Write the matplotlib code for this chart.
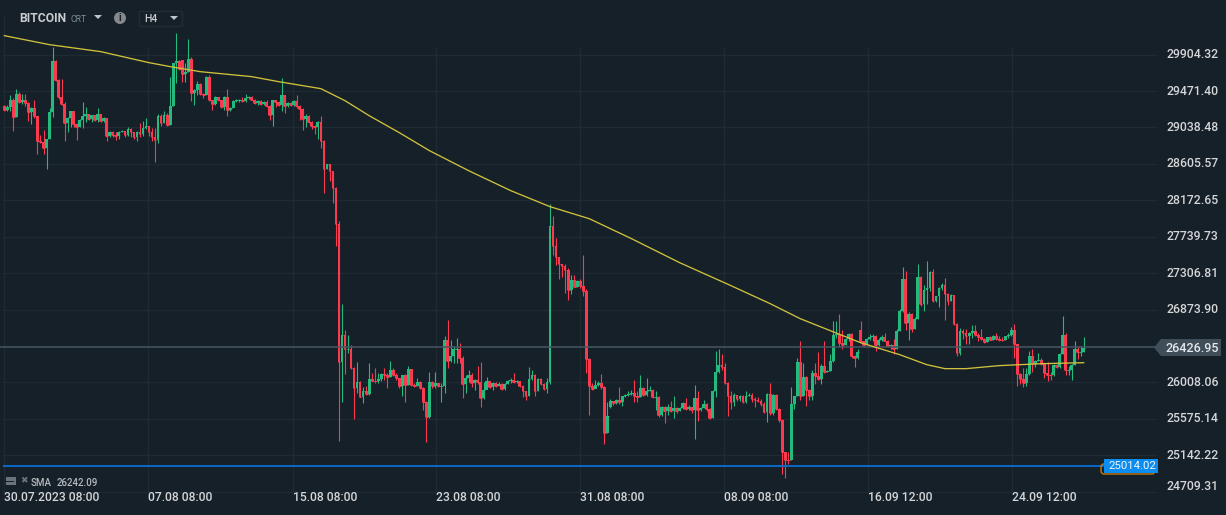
"""BITCOIN H4 candlestick chart with a long SMA, dark trading-terminal look."""

import matplotlib
matplotlib.use("Agg")
import matplotlib.pyplot as plt
from matplotlib.patches import Circle, FancyBboxPatch, Polygon, Rectangle
from matplotlib.transforms import Affine2D

closes = [
    29250, 29280, 29370, 29160, 29435, 29345, 29370, 29330, 29220, 29270,
    29170, 28880, 28860, 28800, 28900, 29220, 29825, 29600, 29400, 29320,
    29090, 29150, 29230, 29080, 29050, 29130, 29170, 29200, 29140, 29185,
    29130, 29195, 29120, 29150, 28940, 28990, 28950, 28935, 28990, 29000,
    28950, 29020, 28990, 28920, 28990, 28960, 29030, 29060, 28990, 28930,
    28890, 29180, 29090, 29190, 29070, 29290, 29800, 29830, 29730, 29680,
    29700, 29850, 29450, 29480, 29560, 29440, 29430, 29640, 29360, 29320,
    29400, 29360, 29280, 29400, 29250, 29270, 29350, 29370, 29370, 29350,
    29390, 29400, 29370, 29330, 29350, 29320, 29340, 29290, 29190, 29360,
    29340, 29300, 29420, 29290, 29330, 29300, 29350, 29290, 29260, 29140,
    29180, 29100, 29060, 29040, 29100, 28880, 28540, 28600, 28520, 28320,
    27890, 26250, 26570, 26400, 26400, 26180, 25940, 26010, 25830, 25910,
    25870, 26050, 26030, 26020, 26050, 26110, 26100, 26070, 26150, 26090,
    26060, 25970, 26090, 25980, 26170, 25980, 25970, 26010, 25940, 25780,
    25600, 26010, 25970, 26000, 25960, 25960, 26510, 26260, 26320, 26400,
    26410, 26300, 25990, 26060, 26100, 25995, 26040, 26010, 25820, 25920,
    26020, 25950, 26000, 25960, 25990, 25930, 25990, 26030, 26040, 26010,
    26030, 25960, 25910, 25850, 26050, 26090, 25910, 26050, 25990, 25930,
    26010, 27865, 27630, 27495, 27410, 27390, 27340, 27110, 27230, 27145,
    27210, 27150, 27100, 26280, 25970, 25930, 25980, 26000, 25950, 25400,
    25610, 25790, 25760, 25800, 25770, 25840, 25860, 25870, 25880, 25850,
    25830, 25945, 25860, 25910, 25920, 25830, 25830, 25620, 25720, 25670,
    25710, 25670, 25700, 25670, 25700, 25760, 25690, 25720, 25680, 25820,
    25680, 25700, 25750, 25690, 25590, 25900, 26130, 26210, 26190, 26000,
    25840, 25780, 25860, 25810, 25850, 25770, 25850, 25860, 25810, 25800,
    25790, 25750, 25650, 25870, 25640, 25860, 25690, 25560, 25175, 25090,
    25085, 25750, 25840, 26255, 25850, 26075, 25920, 25850, 26125, 26080,
    26050, 26207, 26132, 26147, 26259, 26570, 26580, 26477, 26457, 26529,
    26588, 26318, 26299, 26366, 26497, 26457, 26525, 26545, 26557, 26450,
    26517, 26549, 26505, 26437, 26457, 26410, 26624, 26854, 27232, 26715,
    26823, 26648, 26767, 27259, 26934, 27112, 27124, 27319, 26973, 27032,
    27132, 27164, 27061, 26973, 27045, 26696, 26358, 26616, 26600, 26557,
    26596, 26624, 26577, 26545, 26525, 26489, 26545, 26517, 26557, 26525,
    26517, 26510, 26557, 26570, 26636, 26465, 26108, 26052, 26001, 26108,
    26326, 26227, 26259, 26279, 26227, 26120, 26100, 26092, 26219, 26187,
    26350, 26577, 26152, 26152, 26219, 26406, 26366, 26370, 26418,
]
highs = [
    29300, 29300, 29430, 29390, 29495, 29455, 29435, 29435, 29340, 29280,
    29360, 29180, 28950, 29010, 28900, 29270, 29995, 29840, 29620, 29610,
    29340, 29160, 29240, 29230, 29090, 29140, 29345, 29285, 29200, 29190,
    29190, 29270, 29195, 29160, 29130, 29000, 29000, 28985, 29000, 29010,
    29000, 29040, 29030, 28990, 29000, 29090, 29110, 29150, 29060, 29030,
    29030, 29200, 29200, 29240, 29210, 29640, 29800, 30160, 29840, 29840,
    29800, 30090, 29880, 29490, 29590, 29570, 29450, 29650, 29660, 29360,
    29410, 29400, 29370, 29410, 29500, 29280, 29360, 29380, 29380, 29400,
    29435, 29410, 29410, 29380, 29360, 29360, 29350, 29360, 29300, 29370,
    29370, 29350, 29625, 29420, 29340, 29340, 29360, 29430, 29300, 29270,
    29200, 29190, 29110, 29070, 29110, 29170, 28890, 28610, 28610, 28510,
    28330, 27930, 26945, 26630, 26570, 26450, 26190, 26250, 26020, 25950,
    25960, 26235, 26115, 26180, 26115, 26120, 26180, 26115, 26260, 26180,
    26120, 26060, 26100, 26110, 26200, 26170, 26000, 26060, 26020, 25950,
    25790, 26130, 26020, 26130, 26000, 26000, 26555, 26755, 26510, 26440,
    26530, 26480, 26320, 26090, 26150, 26120, 26050, 26200, 26250, 26010,
    26070, 26030, 26010, 26010, 26010, 26000, 26000, 26040, 26060, 26120,
    26040, 26030, 25980, 25910, 26190, 26150, 26110, 26060, 26060, 26000,
    26060, 28125, 27985, 27730, 27500, 27420, 27420, 27370, 27290, 27280,
    27230, 27240, 27520, 27120, 26300, 26000, 26040, 26020, 26110, 25970,
    25770, 25810, 25790, 25810, 25950, 25850, 25870, 25900, 25920, 26040,
    25900, 26100, 25950, 26060, 25960, 25930, 25910, 25840, 25730, 25730,
    25750, 25790, 25850, 25710, 25720, 25780, 25820, 25740, 25720, 25980,
    25910, 25720, 25800, 25760, 25700, 25920, 26385, 26400, 26340, 26240,
    26010, 25910, 25880, 25860, 25860, 25860, 25910, 25880, 25880, 25830,
    25830, 25810, 25770, 25880, 26000, 25870, 25870, 25700, 25570, 25180,
    25175, 25950, 25850, 26300, 26495, 26235, 26080, 25930, 26155, 26235,
    26370, 26230, 26497, 26155, 26350, 26735, 26735, 26815, 26630, 26540,
    26600, 26600, 26330, 26400, 26735, 26500, 26535, 26580, 26580, 26570,
    26530, 26570, 26590, 26510, 26470, 26520, 26640, 26880, 27380, 27330,
    26840, 26830, 26780, 27420, 27270, 27170, 27450, 27330, 27350, 27040,
    27140, 27190, 27250, 27070, 27060, 27050, 26710, 26650, 26640, 26640,
    26610, 26690, 26690, 26590, 26640, 26540, 26550, 26560, 26570, 26590,
    26560, 26550, 26565, 26590, 26670, 26696, 26470, 26120, 26180, 26180,
    26375, 26406, 26270, 26360, 26300, 26240, 26250, 26130, 26225, 26225,
    26360, 26795, 26590, 26200, 26225, 26495, 26440, 26440, 26545,
]
lows = [
    29230, 29230, 29240, 29000, 29160, 29330, 29320, 29290, 29120, 29080,
    29150, 28720, 28850, 28720, 28540, 28900, 29160, 29590, 29380, 29310,
    28880, 28990, 29040, 29040, 28890, 29040, 29030, 29100, 29130, 29100,
    29110, 29100, 29100, 29100, 28880, 28930, 28930, 28890, 28900, 28980,
    28930, 28940, 28920, 28900, 28880, 28930, 28940, 29020, 28940, 28880,
    28625, 28850, 29060, 29090, 29060, 29070, 29290, 29570, 29720, 29580,
    29580, 29700, 29350, 29300, 29430, 29430, 29390, 29430, 29350, 29250,
    29310, 29350, 29270, 29250, 29180, 29240, 29310, 29340, 29340, 29340,
    29340, 29380, 29360, 29320, 29310, 29310, 29300, 29280, 29130, 29060,
    29280, 29290, 29240, 29210, 29280, 29290, 29290, 29270, 29130, 29010,
    29050, 29090, 29020, 28960, 28900, 28800, 28265, 28540, 28400, 28140,
    27630, 25310, 25775, 26110, 26360, 26170, 25570, 25880, 25830, 25760,
    25860, 25860, 26020, 26000, 26000, 26020, 26040, 25940, 26070, 26080,
    26040, 25940, 25840, 25780, 25980, 25970, 25950, 25960, 25930, 25680,
    25300, 25590, 25940, 25940, 25950, 25770, 25880, 26180, 26250, 26240,
    26240, 26240, 25820, 25880, 26010, 25950, 25915, 25990, 25715, 25810,
    25980, 25940, 25920, 25950, 25960, 25920, 25920, 25990, 26000, 26000,
    26000, 25950, 25830, 25800, 25840, 26040, 25850, 25900, 25980, 25920,
    25880, 25990, 27520, 27400, 27240, 27260, 27070, 26990, 27060, 27140,
    27140, 27130, 27030, 26120, 25625, 25920, 25950, 25960, 25930, 25280,
    25400, 25700, 25740, 25750, 25750, 25730, 25830, 25850, 25860, 25780,
    25780, 25830, 25850, 25840, 25900, 25820, 25680, 25600, 25610, 25530,
    25620, 25650, 25590, 25640, 25670, 25690, 25680, 25680, 25640, 25340,
    25545, 25670, 25700, 25670, 25570, 25580, 25830, 26120, 26150, 25990,
    25610, 25690, 25730, 25790, 25790, 25760, 25760, 25840, 25780, 25710,
    25770, 25730, 25640, 25540, 25620, 25620, 25680, 25540, 24915, 24875,
    25040, 25080, 25690, 25840, 25800, 25840, 25730, 25800, 25800, 25990,
    26040, 25990, 26120, 26130, 26140, 26250, 26540, 26430, 26410, 26450,
    26500, 26300, 26190, 26290, 26480, 26440, 26450, 26510, 26500, 26380,
    26440, 26500, 26500, 26430, 26410, 26340, 26400, 26620, 26850, 26635,
    26510, 26610, 26640, 26760, 26920, 26860, 26940, 27100, 26960, 26960,
    26900, 27110, 26755, 26930, 26970, 26690, 26320, 26330, 26520, 26470,
    26460, 26540, 26560, 26500, 26510, 26480, 26485, 26510, 26510, 26515,
    26505, 26505, 26510, 26530, 26560, 26300, 25960, 25990, 25950, 25960,
    26100, 26130, 26190, 26260, 26220, 26060, 26030, 26040, 26085, 26180,
    26180, 26340, 26100, 26100, 26040, 26210, 26290, 26320, 26370,
]

# Each candle opens on the previous close, apart from these few gaps.
opens = [29290] + closes[:-1]
opens[59] = 29840
opens[201] = 25718
opens[284] = 26628

sma_index = [0, 15, 32, 48, 55, 65, 82, 91, 105, 113, 121, 131, 141, 154, 168, 181,
             194, 208, 224, 241, 254, 264, 274, 284, 297, 306, 312, 319, 330, 344, 358]
sma_values = [30130, 30023, 29940, 29809, 29762, 29702, 29643, 29583, 29500, 29357,
              29179, 28977, 28763, 28525, 28287, 28097, 27954, 27717, 27431, 27158,
              26944, 26765, 26622, 26480, 26337, 26218, 26171, 26171, 26207, 26230, 26242]

price_ticks = [29904.32, 29471.40, 29038.48, 28605.57, 28172.65, 27739.73, 27306.81,
               26873.90, 26440.98, 26008.06, 25575.14, 25142.22, 24709.31]
# 26440.98 is hidden behind the last-price tag
price_labels = ["29904.32", "29471.40", "29038.48", "28605.57", "28172.65", "27739.73", "27306.81",
                "26873.90", "", "26008.06", "25575.14", "25142.22", "24709.31"]

# date grid does not fall exactly on a candle in the terminal
date_ticks = [0, 47.7, 95.7, 143.2, 191.0, 238.7, 286.5, 334.2]
date_labels = ["30.07.2023 08:00", "07.08 08:00", "15.08 08:00", "23.08 08:00",
               "31.08 08:00", "08.09 08:00", "16.09 12:00", "24.09 12:00"]

last_price = 26426.95
level_price = 25014.02

BG = "#162028"
GRID = "#1f2a33"
UP = "#24b97d"
DOWN = "#fb3a50"
TEXT = "#d4d6d8"
FONT = "Roboto"

fig = plt.figure(figsize=(12.26, 5.15), dpi=100, facecolor=BG)
ax = fig.add_axes([0, 0, 1, 1], facecolor=BG)
ax.axis("off")
ax.set_xlim(-1.43, 405.2)
ax.set_ylim(24431, 30554)

# chart pixels, for the terminal's widgets around the plot
px = Affine2D().scale(1 / 1226, -1 / 515).translate(0, 1) + fig.transFigure

ax.hlines(price_ticks, -0.8, 382.4, color=GRID, lw=1.0, zorder=1)
ax.vlines(date_ticks, 24709, 29990, color=GRID, lw=1.0, zorder=1)
ax.vlines(0, 29990, 30370, color=GRID, lw=1.0, zorder=1)

xs = list(range(len(closes)))
colors = [UP if c >= o else DOWN for o, c in zip(opens, closes)]
ax.vlines(xs, lows, highs, colors=colors, lw=0.8, zorder=3)
ax.bar(xs, [c - o for o, c in zip(opens, closes)], bottom=opens, width=0.92,
       color=colors, linewidth=0, zorder=3)
# doji-like candles still show a thin body
ax.hlines(closes, [x - 0.46 for x in xs], [x + 0.46 for x in xs], colors=colors, lw=0.7, zorder=3)

ax.axhline(last_price, color="#465560", lw=1.1, zorder=4, xmax=0.95)
ax.plot(sma_index, sma_values, color="#cfc13c", lw=0.95, zorder=5)
ax.hlines(level_price, -0.4, 365, color="#0a6fd6", lw=1.3, zorder=5)

for value, label in zip(price_ticks, price_labels):
    y = value if value > 24800 else value + 60  # bottom label is pushed up off the edge
    ax.text(1166 / 3.015 - 1.43, y, label, color=TEXT, fontsize=8.8, fontweight="medium",
            family=FONT, va="center", ha="left")

for tick, label in zip(date_ticks, date_labels):
    ax.text(tick, 24431 + 17 * 11.89, label, color=TEXT, fontsize=8.7, family=FONT,
            fontweight="medium", va="center", ha="left")

# last-price tag
fig.add_artist(Polygon([(1154, 347.5), (1161, 339), (1221, 339), (1221, 356), (1161, 356)],
                       closed=True, facecolor="#3f4e59", edgecolor="none", transform=px))
fig.text(1165, 348, "26426.95", color="#e6e8ea", fontsize=9.0, fontweight="medium", family=FONT,
         va="center", ha="left", transform=px)

# level tag with the orange order marker peeking out below it
fig.add_artist(FancyBboxPatch((1101, 464), 54, 10, boxstyle="round,pad=0,rounding_size=3",
                              facecolor="none", edgecolor="#c87a10", lw=1.0, transform=px))
fig.add_artist(Rectangle((1104, 459), 54, 14, facecolor="#0a8cf0", edgecolor="none", transform=px))
fig.text(1108, 466, "25014.02", color="#f2f6fa", fontsize=8.2, family=FONT,
         va="center", ha="left", transform=px)

# top-left selectors
fig.text(19.5, 18.5, "BITCOIN", color="#c9cccf", fontsize=8.7, fontweight="bold", family=FONT,
         va="center", ha="left", transform=px)
fig.text(70.5, 19, "CRT", color="#7f8b94", fontsize=6.2, family=FONT, va="center", ha="left", transform=px)
fig.add_artist(Polygon([(94, 15), (102, 15), (98, 19)], closed=True, facecolor="#c0c4c7", transform=px))
fig.add_artist(Circle((120, 18), 6, facecolor="#85898d", edgecolor="none", transform=px))
fig.text(120, 18, "i", color=BG, fontsize=7.5, fontweight="bold", family=FONT, va="center", ha="center", transform=px)
fig.add_artist(Rectangle((138.5, 10.5), 43, 15, facecolor="none", edgecolor="#212c35", lw=1, transform=px))
fig.text(144, 19, "H4", color="#c9cccf", fontsize=7.5, fontweight="medium", family=FONT, va="center", ha="left", transform=px)
fig.add_artist(Polygon([(170, 16), (178, 16), (174, 20)], closed=True, facecolor="#c0c4c7", transform=px))

# SMA legend at the bottom left
fig.add_artist(Rectangle((6, 477), 10, 8, facecolor="#6d7479", edgecolor="none", transform=px))
fig.add_artist(Rectangle((6, 481), 8, 1, facecolor=BG, edgecolor="none", transform=px))
fig.text(24, 481, "✖", color="#6d7479", fontsize=6.5, family="DejaVu Sans", va="center", ha="center", transform=px)
fig.text(31, 483.5, "SMA", color="#b8bcbf", fontsize=7, fontweight="medium", family=FONT, va="center", ha="left", transform=px)
fig.text(57, 483.5, "26242.09", color="#b8bcbf", fontsize=7, fontweight="medium", family=FONT, va="center", ha="left", transform=px)

fig.savefig("out.png", dpi=100, facecolor=BG)
